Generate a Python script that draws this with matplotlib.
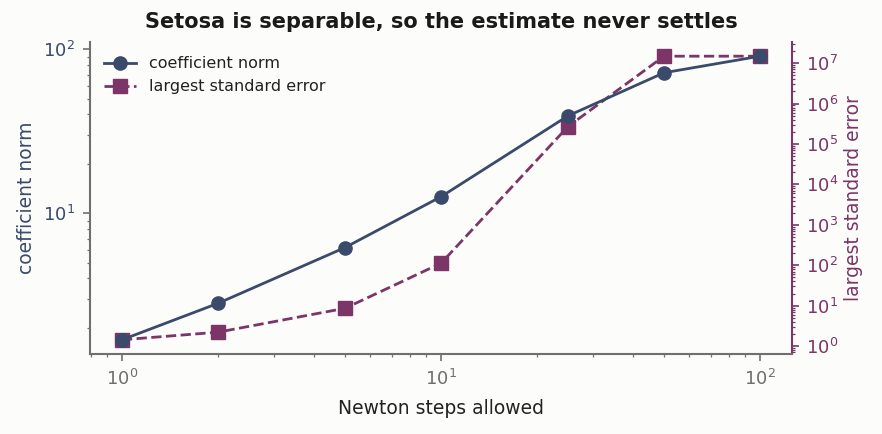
import numpy as np
import matplotlib
matplotlib.use("Agg")
from matplotlib import pyplot as plt

# Newton steps allowed and what the fit gives back
steps = [1, 2, 5, 10, 25, 50, 100]
coef_norm = [1.69, 2.82, 6.17, 12.6, 39.2, 71.8, 90.6]
max_se = [1.43, 2.21, 8.6, 112, 2.7e5, 1.49e7, 1.49e7]

navy = '#3a4a6b'
plum = '#7b3567'
grey = '#6e706e'
bg = '#fcfcfa'

plt.rcParams['font.family'] = ['DejaVu Sans']

fig = plt.figure(figsize=(8.82, 4.34), dpi=100, facecolor=bg)
ax1 = fig.add_axes([90 / 882, 80 / 434, 702 / 882, 312 / 434])
ax1.set_facecolor(bg)
ax2 = ax1.twinx()

l1, = ax1.plot(steps, coef_norm, '-o', color=navy, lw=2, ms=9.5,
               label='coefficient norm', zorder=3)
l2, = ax2.plot(steps, max_se, '--s', color=plum, lw=2, ms=9.5,
               label='largest standard error', zorder=2)

ax1.set_xscale('log')
ax1.set_yscale('log')
ax2.set_yscale('log')
ax2.set_yticks([10.0 ** k for k in range(8)])

ax1.set_xlabel('Newton steps allowed', fontsize=13.5, color='#222222', labelpad=7)
ax1.set_ylabel('coefficient norm', fontsize=13.5, color=navy, labelpad=5)
ax2.set_ylabel('largest standard error', fontsize=13.5, color=plum, labelpad=4)
ax1.set_title('Setosa is separable, so the estimate never settles',
              fontsize=15, fontweight='bold', color='#1a1a1a', pad=10)

ax1.tick_params(axis='x', which='both', colors=grey, labelsize=13, pad=6)
ax1.tick_params(axis='y', which='both', colors=grey, labelcolor=navy, labelsize=13, pad=6)
ax2.tick_params(axis='y', which='both', colors=plum, labelcolor=plum, labelsize=13, pad=5)
for ax in (ax1, ax2):
    ax.tick_params(which='major', length=5, width=1.2)
    ax.tick_params(which='minor', length=2.5, width=0.9)

for ax in (ax1, ax2):
    ax.spines['top'].set_visible(False)
ax1.spines['right'].set_visible(False)
ax1.spines['left'].set_color(grey)
ax1.spines['bottom'].set_color(grey)
ax1.spines['left'].set_linewidth(1.5)
ax1.spines['bottom'].set_linewidth(1.5)
ax2.spines['left'].set_visible(False)
ax2.spines['bottom'].set_visible(False)
ax2.spines['right'].set_color(plum)
ax2.spines['right'].set_linewidth(1.5)

ax1.set_zorder(ax2.get_zorder() + 1)
ax1.patch.set_visible(False)
ax2.patch.set_facecolor(bg)

leg = ax1.legend(handles=[l1, l2], loc='upper left', frameon=False, fontsize=11.5)
for t in leg.get_texts():
    t.set_color('#222222')

fig.savefig('out.png', dpi=100, facecolor=bg)
